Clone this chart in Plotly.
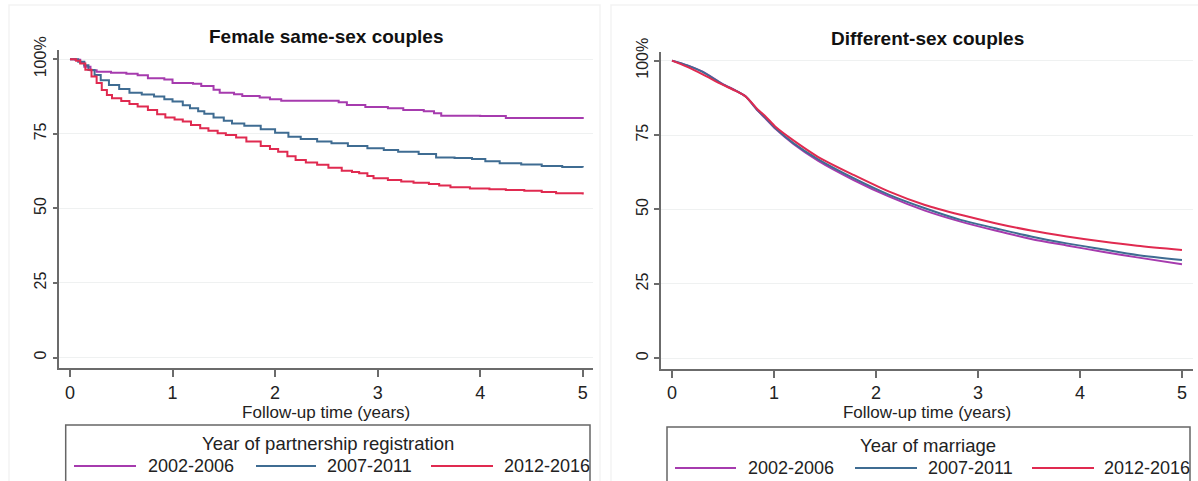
import plotly.graph_objects as go

# ---- Female same-sex couples: Kaplan-Meier steps (years, % still together) ----
fs_2002_t = [0.00, 0.05, 0.10, 0.14, 0.20, 0.26, 0.40, 0.55, 0.66, 0.76, 0.92, 1.00, 1.20, 1.28,
             1.40, 1.46, 1.60, 1.68, 1.85, 1.95, 2.06, 2.62, 2.70, 2.88, 3.10, 3.25, 3.45, 3.55,
             3.62, 4.00, 4.25, 5.00]
fs_2002_v = [100, 99.8, 98.8, 97.5, 96.3, 95.8, 95.5, 95.1, 94.6, 93.6, 93.2, 92.0, 91.8, 91.0,
             89.8, 88.8, 88.3, 87.7, 87.2, 86.6, 86.1, 85.6, 84.7, 84.0, 83.6, 83.0, 82.6, 81.9,
             81.1, 81.0, 80.3, 80.0]

fs_2007_t = [0.00, 0.08, 0.14, 0.18, 0.24, 0.30, 0.38, 0.48, 0.58, 0.70, 0.82, 0.92, 1.00, 1.10,
             1.17, 1.25, 1.31, 1.40, 1.50, 1.58, 1.70, 1.86, 2.00, 2.13, 2.25, 2.41, 2.55, 2.71,
             2.90, 3.06, 3.20, 3.40, 3.57, 3.75, 3.92, 4.05, 4.19, 4.40, 4.60, 4.80, 5.00]
fs_2007_v = [100, 99.2, 98.0, 96.4, 94.7, 93.0, 91.4, 90.0, 88.8, 88.2, 87.5, 86.6, 85.8, 84.6,
             83.6, 82.6, 81.7, 80.5, 79.4, 78.5, 77.7, 76.5, 75.4, 74.0, 73.3, 72.4, 71.8, 70.9,
             70.2, 69.6, 69.0, 68.2, 67.1, 66.9, 66.6, 65.8, 65.1, 64.7, 64.2, 63.9, 63.7]

fs_2012_t = [0.00, 0.06, 0.10, 0.15, 0.21, 0.26, 0.31, 0.36, 0.41, 0.50, 0.58, 0.66, 0.76, 0.85,
             0.93, 1.02, 1.10, 1.18, 1.27, 1.35, 1.44, 1.52, 1.62, 1.72, 1.86, 1.95, 2.03, 2.12,
             2.20, 2.30, 2.41, 2.52, 2.65, 2.75, 2.82, 2.90, 2.96, 3.10, 3.23, 3.35, 3.50, 3.60,
             3.71, 3.90, 4.09, 4.25, 4.43, 4.60, 4.74, 5.00]
fs_2012_v = [100, 99.5, 98.6, 96.5, 94.2, 92.0, 89.7, 88.0, 86.9, 86.0, 85.0, 84.2, 83.0, 81.6,
             80.5, 79.8, 79.1, 78.0, 76.9, 76.0, 75.2, 74.6, 73.8, 72.4, 70.9, 69.9, 69.0, 67.5,
             66.2, 65.4, 64.6, 63.6, 62.6, 62.2, 61.8, 60.9, 60.1, 59.5, 59.0, 58.6, 58.2, 57.7,
             57.1, 56.7, 56.4, 56.2, 55.9, 55.5, 55.1, 54.7]

# ---- Different-sex couples: smooth survival curves ----
ds_t = [0.00, 0.15, 0.30, 0.49, 0.62, 0.72, 0.84, 0.91, 1.02, 1.19, 1.43, 1.78, 2.13, 2.48,
        2.83, 3.17, 3.52, 3.87, 4.22, 4.56, 5.00]
ds_2002_v = [100, 98.4, 96.3, 92.3, 90.0, 88.0, 83.2, 80.8, 76.9, 72.0, 66.4, 59.9, 54.3, 49.6,
             45.9, 42.9, 40.1, 37.9, 35.8, 33.9, 31.6]
ds_2007_v = [100, 98.4, 96.2, 92.2, 90.0, 88.0, 83.3, 81.0, 77.1, 72.3, 66.9, 60.5, 54.9, 50.4,
             46.5, 43.7, 40.9, 38.6, 36.6, 34.7, 33.0]
ds_2012_v = [100, 97.9, 95.4, 92.0, 89.9, 88.0, 83.6, 81.5, 77.6, 73.2, 67.7, 61.6, 56.0, 51.5,
             48.2, 45.4, 42.9, 40.9, 39.2, 37.8, 36.4]

cohorts = ["2002-2006", "2007-2011", "2012-2016"]
colors = ["#a63bae", "#3f6c92", "#e02a50"]

x_ticks = [0, 1, 2, 3, 4, 5]
y_ticks = [0, 25, 50, 75, 100]
y_ticktext = ["0", "25", "50", "75", "100%"]

W, H = 1198, 481
FONT = "Liberation Sans, Arial, sans-serif"


def px(x):
    return x / W


def py(y):
    return 1 - y / H


fig = go.Figure()

left_series = [(fs_2002_t, fs_2002_v), (fs_2007_t, fs_2007_v), (fs_2012_t, fs_2012_v)]
for (t, v), name, c in zip(left_series, cohorts, colors):
    fig.add_trace(go.Scatter(x=t, y=v, mode="lines", name=name, line=dict(color=c, width=2, shape="hv"),
                             xaxis="x", yaxis="y", showlegend=False))

for v, name, c in zip([ds_2002_v, ds_2007_v, ds_2012_v], cohorts, colors):
    fig.add_trace(go.Scatter(x=ds_t, y=v, mode="lines", name=name,
                             line=dict(color=c, width=2, shape="spline", smoothing=0.8),
                             xaxis="x2", yaxis="y2", showlegend=False))

axis_common = dict(showline=True, linecolor="#6b6b6b", linewidth=1.5, ticks="outside",
                   tickcolor="#6b6b6b", tickwidth=1.5, zeroline=False, mirror=False,
                   automargin=False)

xcommon = dict(axis_common, tickvals=x_ticks, ticklen=7, showgrid=False,
               tickfont=dict(family=FONT, size=18, color="#222"),
               title=dict(text="Follow-up time (years)", font=dict(family=FONT, size=17, color="#222"),
                          standoff=0))
ycommon = dict(axis_common, tickvals=y_ticks, ticktext=y_ticktext, ticklen=5, tickangle=-90,
               showgrid=True, gridcolor="#eff1f1", gridwidth=1,
               tickfont=dict(family=FONT, size=16, color="#222"))

fig.update_layout(
    width=W, height=H,
    margin=dict(l=0, r=0, t=0, b=0, autoexpand=False),
    paper_bgcolor="white", plot_bgcolor="white",
    xaxis=dict(xcommon, domain=[px(59.3), px(593)], range=[-0.104, 5.10], anchor="y"),
    yaxis=dict(ycommon, domain=[py(368.3), py(50)], range=[-3.6, 103.1], anchor="x"),
    xaxis2=dict(xcommon, domain=[px(661), px(1193)], range=[-0.108, 5.108], anchor="y2"),
    yaxis2=dict(ycommon, domain=[py(369), py(52)], range=[-3.6, 102.9], anchor="x2"),
)

shapes = []
annotations = []

# Faint outlines of the two graph regions
shapes.append(dict(type="rect", xref="paper", yref="paper", x0=px(9), x1=px(600), y0=py(490), y1=py(5),
                   line=dict(color="#f3f3f3", width=1.5), layer="below"))
shapes.append(dict(type="rect", xref="paper", yref="paper", x0=px(611), x1=px(1205), y0=py(490), y1=py(5),
                   line=dict(color="#f3f3f3", width=1.5), layer="below"))

# Panel titles
annotations.append(dict(text="<b>Female same-sex couples</b>", xref="paper", yref="paper",
                        x=px(326), y=py(36), xanchor="center", yanchor="middle", showarrow=False,
                        font=dict(family=FONT, size=19, color="#111")))
annotations.append(dict(text="<b>Different-sex couples</b>", xref="paper", yref="paper",
                        x=px(927), y=py(38), xanchor="center", yanchor="middle", showarrow=False,
                        font=dict(family=FONT, size=19, color="#111")))

# Legend boxes drawn below each panel
legends = [
    dict(box=(65.7, 590, 425), title="Year of partnership registration", tx=328,
         lines=[(74, 136), (256, 316), (431, 493)], texts=[146, 325, 502]),
    dict(box=(667, 1190, 427), title="Year of marriage", tx=928,
         lines=[(675, 736), (855, 917), (1032, 1094)], texts=[746, 926, 1102]),
]
for lg in legends:
    x0, x1, ytop = lg["box"]
    shapes.append(dict(type="rect", xref="paper", yref="paper", x0=px(x0), x1=px(x1),
                       y0=py(500), y1=py(ytop), line=dict(color="#666", width=1.5),
                       fillcolor="white"))
    annotations.append(dict(text=lg["title"], xref="paper", yref="paper", x=px(lg["tx"]),
                            y=py(ytop + 18), xanchor="center", yanchor="middle", showarrow=False,
                            font=dict(family=FONT, size=18.5, color="#222")))
    ly = ytop + 41
    for (a, b), tx, name, c in zip(lg["lines"], lg["texts"], cohorts, colors):
        shapes.append(dict(type="line", xref="paper", yref="paper", x0=px(a), x1=px(b),
                           y0=py(ly), y1=py(ly), line=dict(color=c, width=2)))
        annotations.append(dict(text=name, xref="paper", yref="paper", x=px(tx), y=py(ly),
                                xanchor="left", yanchor="middle", showarrow=False,
                                font=dict(family=FONT, size=18, color="#222")))

fig.update_layout(shapes=shapes, annotations=annotations)

fig.write_html("out.html")
